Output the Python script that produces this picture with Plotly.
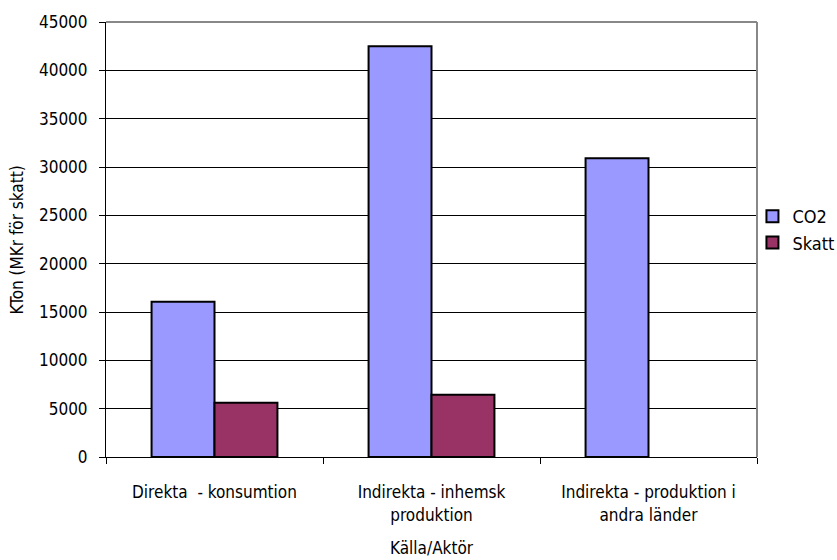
import plotly.graph_objects as go

categories = ["Direkta  - konsumtion", "Indirekta - inhemsk<br>produktion", "Indirekta - produktion i<br>andra länder"]
co2_values = [16050, 42500, 30900]
skatt_values = [5600, 6450, None]
y_ticks = [0, 5000, 10000, 15000, 20000, 25000, 30000, 35000, 40000, 45000]

FONT = "DejaVu Sans Condensed, Liberation Sans Narrow, sans-serif"

fig = go.Figure()
fig.add_trace(go.Bar(name="CO2", x=categories, y=co2_values,
                     marker=dict(color="#9999FF", line=dict(color="black", width=2))))
fig.add_trace(go.Bar(name="Skatt", x=categories, y=skatt_values,
                     marker=dict(color="#993366", line=dict(color="black", width=2))))

fig.update_layout(
    width=837, height=560,
    margin=dict(l=106, r=80, t=22, b=103, autoexpand=False),
    paper_bgcolor="white", plot_bgcolor="white",
    font=dict(family=FONT, size=17, color="black"),
    barmode="group", bargap=0.42, bargroupgap=0,
    showlegend=True,
    legend=dict(x=0.993, y=0.523, xanchor="left", yanchor="middle",
                bgcolor="rgba(0,0,0,0)",
                font=dict(size=18), itemwidth=30),
    xaxis=dict(showline=True, linecolor="black", linewidth=1,
               ticks="outside", tickson="boundaries", ticklen=6, tickcolor="black",
               ticklabelstandoff=20,
               showgrid=False),
    yaxis=dict(range=[0, 45000], tickvals=y_ticks, tickformat="d", showline=True, linecolor="black",
               linewidth=1, ticks="outside", ticklen=6, tickcolor="black",
               ticklabelstandoff=8,
               showgrid=True, gridcolor="black", gridwidth=1,
               zeroline=False),
    annotations=[
        dict(text="Källa/Aktör", xref="paper", yref="paper", x=0.5, y=-(548 - 457) / 435,
             xanchor="center", yanchor="middle", showarrow=False, font=dict(size=17)),
        dict(text="KTon (MKr för skatt)", xref="paper", yref="paper",
             x=-(106 - 16) / 651, y=0.5, xanchor="center", yanchor="middle",
             textangle=-90, showarrow=False, font=dict(size=17)),
    ],
)
fig.add_shape(type="line", xref="paper", yref="paper", x0=1, x1=1, y0=0, y1=1,
              line=dict(color="#888888", width=2))
fig.add_shape(type="line", xref="paper", yref="paper", x0=0, x1=1, y0=1, y1=1,
              line=dict(color="#888888", width=2))

fig.write_html("out.html", config={"displayModeBar": False},
               post_script="document.body.style.margin='0px';")
